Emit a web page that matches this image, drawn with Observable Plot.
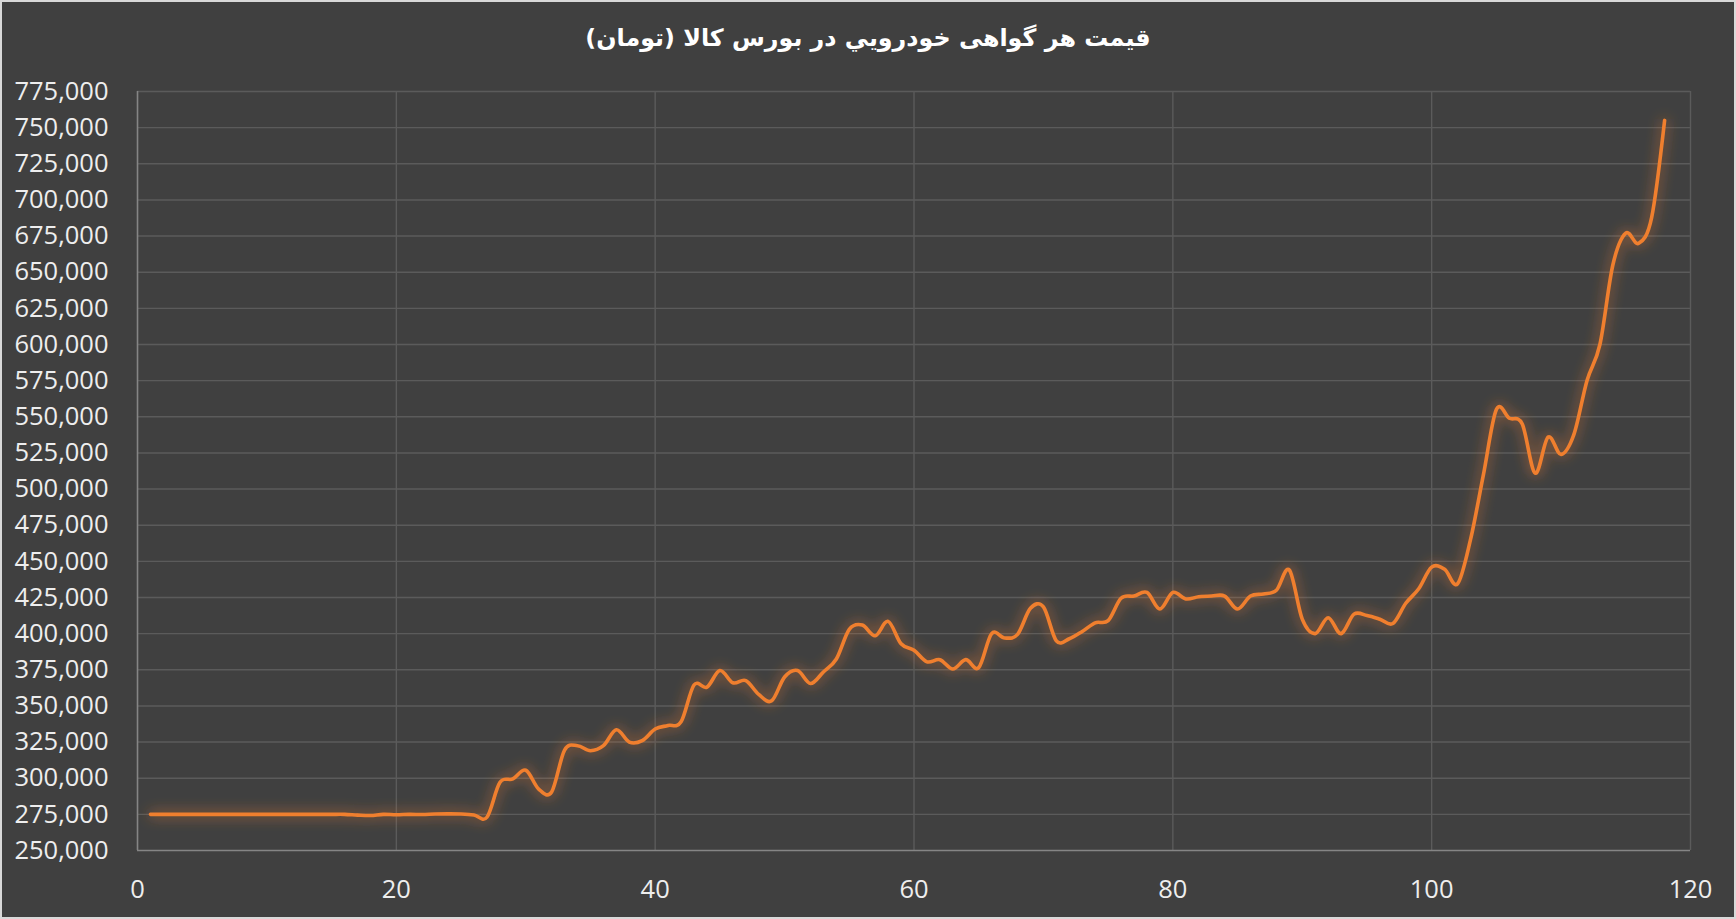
<!DOCTYPE html>
<html>
<head>
<meta charset="utf-8">
<script src="https://cdn.jsdelivr.net/npm/d3@7"></script>
<script src="https://cdn.jsdelivr.net/npm/@observablehq/plot@0.6"></script>
<style>
  html, body { margin: 0; padding: 0; background: #404040; }
  #wrap { position: relative; width: 1736px; height: 919px; background: #404040; overflow: hidden; }
  #title { height: 58px; text-align: center; color: #ffffff; position: relative;
           font-family: "DejaVu Sans", sans-serif; font-weight: bold; font-size: 23.8px; }
  #title span { position: absolute; left: 0; right: 0; top: 20px; line-height: 36px; }
  #frame { position: absolute; left: 0; top: 0; width: 1736px; height: 919px; box-sizing: border-box;
           border: 2px solid #d9d9d9; pointer-events: none; }
  svg { display: block; overflow: visible; }
</style>
</head>
<body>
<div id="wrap">
  <div id="title"><span dir="rtl">قیمت هر گواهی خودرویي در بورس کالا (تومان)</span></div>
  <div id="chart"></div>
  <div id="frame"></div>
</div>
<script>
const days = d3.range(1, 119);
const prices = [
  275000, 275000, 275000, 275000, 275000, 275000, 275000, 275000, 275000, 275000,
  275000, 275000, 275000, 275000, 275000, 275000, 274500, 274200, 275000, 274700,
  275000, 274900, 275200, 275300, 275200, 274600, 273000, 297000, 299500, 305500,
  292500, 290500, 319500, 322500, 319000, 322500, 333500, 325000, 326000, 334000,
  336500, 339000, 364500, 363000, 374500, 366000, 367500, 358000, 353500, 370000,
  374500, 365500, 373500, 382500, 403000, 406000, 398500, 408500, 393000, 388500,
  380500, 382000, 375500, 382000, 376500, 400000, 397000, 399500, 417500, 418500,
  395000, 396500, 401500, 407500, 409000, 424500, 426000, 428500, 417000, 428500,
  424000, 425500, 426000, 426000, 417000, 426000, 427500, 430000, 444000, 410000,
  400000, 411000, 400000, 413500, 412500, 410000, 407000, 421000, 431000, 446000,
  444500, 434500, 465000, 510000, 555000, 549000, 545000, 511000, 536000, 524000,
  538000, 575000, 600000, 655000, 677000, 670000, 688000, 755000
];
const xTicks = [0, 20, 40, 60, 80, 100, 120];
const yTicks = d3.range(250000, 775001, 25000);

const data = days.map((d, i) => ({x: d, y: prices[i]}));

const chart = Plot.plot({
  width: 1736,
  height: 861,
  marginLeft: 137,
  marginRight: 46,
  marginTop: 33,
  marginBottom: 69,
  style: {background: "transparent", color: "#eeeeee", fontFamily: "'Open Sans', sans-serif", fontSize: "25.5px"},
  x: {domain: [0, 120], ticks: xTicks, tickSize: 0, tickPadding: 29, label: null},
  y: {domain: [250000, 775000], ticks: yTicks, tickFormat: d3.format(","), tickSize: 0, tickPadding: 29, label: null},
  marks: [
    Plot.ruleY(yTicks.slice(1), {stroke: "#5b5b5b", strokeWidth: 1.4}),
    Plot.ruleX(xTicks.slice(1), {stroke: "#5b5b5b", strokeWidth: 1.4}),
    Plot.ruleX([0], {stroke: "#858585", strokeWidth: 1.6}),
    Plot.ruleY([250000], {stroke: "#858585", strokeWidth: 1.6}),
    Plot.line(data, {x: "x", y: "y", stroke: "#F07F2F", strokeWidth: 3.6, curve: "cardinal", tension: 0})
  ]
});
document.getElementById("chart").appendChild(chart);

// glow effect on the line
const svgNS = "http://www.w3.org/2000/svg";
const defs = document.createElementNS(svgNS, "defs");
defs.innerHTML = `
  <filter id="glow" x="-5%" y="-5%" width="110%" height="110%">
    <feGaussianBlur in="SourceGraphic" stdDeviation="7" result="blur"/>
    <feComponentTransfer in="blur" result="soft"><feFuncA type="linear" slope="0.85"/></feComponentTransfer>
    <feMerge><feMergeNode in="soft"/><feMergeNode in="SourceGraphic"/></feMerge>
  </filter>`;
chart.insertBefore(defs, chart.firstChild);
const lineG = chart.querySelector('g[aria-label="line"]');
if (lineG) lineG.setAttribute("filter", "url(#glow)");
</script>
</body>
</html>
